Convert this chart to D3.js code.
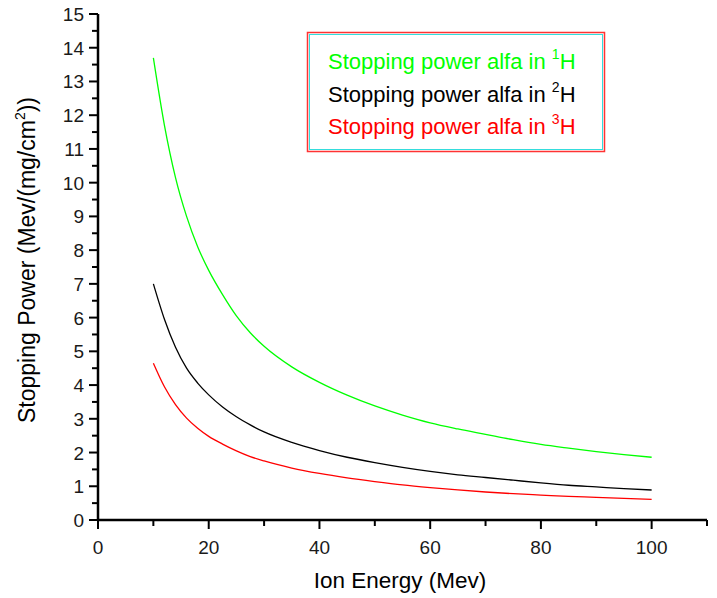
<!DOCTYPE html>
<html>
<head>
<meta charset="utf-8">
<script src="https://cdn.jsdelivr.net/npm/d3@7"></script>
<style>
  body { margin: 0; background: #fff; }
  text { font-family: Arial, "Liberation Sans", sans-serif; }
</style>
</head>
<body>
<div id="graph"></div>
<script>
var width = 717;
var height = 598;

// ion energy (MeV)
var energy = [10, 12, 14, 16, 18, 20, 22.5, 25, 27.5, 30, 35, 40, 45, 50, 55, 60, 65, 70, 75, 80, 85, 90, 95, 100];
// stopping power (MeV/(mg/cm2))
var alfaH1 = [13.7, 11.7, 10.15, 9.0, 8.1, 7.4, 6.68, 6.05, 5.55, 5.15, 4.54, 4.08, 3.7, 3.38, 3.11, 2.88, 2.7, 2.54, 2.38, 2.24, 2.13, 2.03, 1.94, 1.86];
var alfaH2 = [7.0, 5.95, 5.12, 4.5, 4.06, 3.71, 3.35, 3.06, 2.82, 2.61, 2.3, 2.06, 1.86, 1.7, 1.56, 1.44, 1.34, 1.26, 1.18, 1.1, 1.03, 0.98, 0.93, 0.89];
var alfaH3 = [4.65, 3.95, 3.42, 3.02, 2.72, 2.48, 2.25, 2.05, 1.88, 1.75, 1.54, 1.38, 1.25, 1.14, 1.04, 0.96, 0.89, 0.83, 0.78, 0.74, 0.7, 0.67, 0.64, 0.61];

var seriesNames = ["1", "2", "3"];
var seriesColors = ["#00ff00", "#000000", "#ff0000"];
var xTicks = [0, 20, 40, 60, 80, 100];
var yTicks = [0, 1, 2, 3, 4, 5, 6, 7, 8, 9, 10, 11, 12, 13, 14, 15];

var series = [alfaH1, alfaH2, alfaH3].map(function (vals, i) {
    return {
        name: seriesNames[i],
        color: seriesColors[i],
        points: vals.map(function (v, j) {return {x: energy[j], y: v};})
    };
});

var svg = d3.select("#graph").
append("svg").
attr("width", width).
attr("height", height);

var x = d3.scaleLinear().domain([0, 110]).range([98, 707]);
var y = d3.scaleLinear().domain([0, 15]).range([520, 14]);

// x axis
var xAxis = svg.append("g").attr("transform", "translate(0,520)");
xAxis.append("line").
attr("x1", x(0)).attr("x2", x(110)).
attr("y1", 0).attr("y2", 0).
attr("stroke", "#000").attr("stroke-width", 2.5);
xAxis.selectAll("line.minor").
data(d3.range(0, 111, 10)).
enter().
append("line").
attr("class", "minor").
attr("x1", function (d) {return x(d);}).
attr("x2", function (d) {return x(d);}).
attr("y1", 0).
attr("y2", function (d) {return d % 20 === 0 ? 9 : 6;}).
attr("stroke", "#000").attr("stroke-width", 2);
xAxis.selectAll("text").
data(xTicks).
enter().
append("text").
attr("x", function (d) {return x(d);}).
attr("y", 34).
attr("text-anchor", "middle").
attr("font-size", 19).
attr("fill", "#1a1a1a").
text(function (d) {return d;});

// y axis
var yAxis = svg.append("g").attr("transform", "translate(98,0)");
yAxis.append("line").
attr("x1", 0).attr("x2", 0).
attr("y1", y(0)).attr("y2", y(15)).
attr("stroke", "#000").attr("stroke-width", 2.5);
yAxis.selectAll("line.tick").
data(d3.range(0, 15.01, 0.5)).
enter().
append("line").
attr("class", "tick").
attr("x1", function (d) {return d % 1 === 0 ? -9 : -6;}).
attr("x2", 0).
attr("y1", function (d) {return y(d);}).
attr("y2", function (d) {return y(d);}).
attr("stroke", "#000").attr("stroke-width", 2);
yAxis.selectAll("text").
data(yTicks).
enter().
append("text").
attr("x", -14).
attr("y", function (d) {return y(d) + 7;}).
attr("text-anchor", "end").
attr("font-size", 19).
attr("fill", "#1a1a1a").
text(function (d) {return d;});

// axis titles
svg.append("text").
attr("x", 400).
attr("y", 588).
attr("text-anchor", "middle").
attr("font-size", 22.5).
text("Ion Energy (Mev)");

var yTitle = svg.append("text").
attr("transform", "translate(35,260) rotate(-90)").
attr("text-anchor", "middle").
attr("font-size", 23);
yTitle.append("tspan").text("Stopping Power (Mev/(mg/cm");
yTitle.append("tspan").attr("font-size", 14).attr("dy", -10).text("2");
yTitle.append("tspan").attr("dy", 10).text("))");

// curves
var line = d3.line().
x(function (d) {return x(d.x);}).
y(function (d) {return y(d.y);}).
curve(d3.curveMonotoneX);

svg.selectAll("path.curve").
data(series).
enter().
append("path").
attr("class", "curve").
attr("d", function (d) {return line(d.points);}).
attr("fill", "none").
attr("stroke", function (d) {return d.color;}).
attr("stroke-width", 1.3);

// legend
svg.append("rect").
attr("x", 307.5).attr("y", 32.5).attr("width", 297).attr("height", 119).
attr("fill", "#fff").attr("stroke", "#ff3333").attr("stroke-width", 1.5);
svg.append("rect").
attr("x", 309.5).attr("y", 34.5).attr("width", 293).attr("height", 115).
attr("fill", "none").attr("stroke", "#33dddd").attr("stroke-width", 1);

var legend = svg.selectAll("text.legend").
data(series).
enter().
append("text").
attr("class", "legend").
attr("x", 328).
attr("y", function (d, i) {return 69 + i * 32.5;}).
attr("font-size", 22).
attr("fill", function (d) {return d.color;});
legend.append("tspan").text("Stopping power alfa in ");
legend.append("tspan").attr("font-size", 14).attr("dy", -10).text(function (d) {return d.name;});
legend.append("tspan").attr("dy", 10).text("H");
</script>
</body>
</html>
